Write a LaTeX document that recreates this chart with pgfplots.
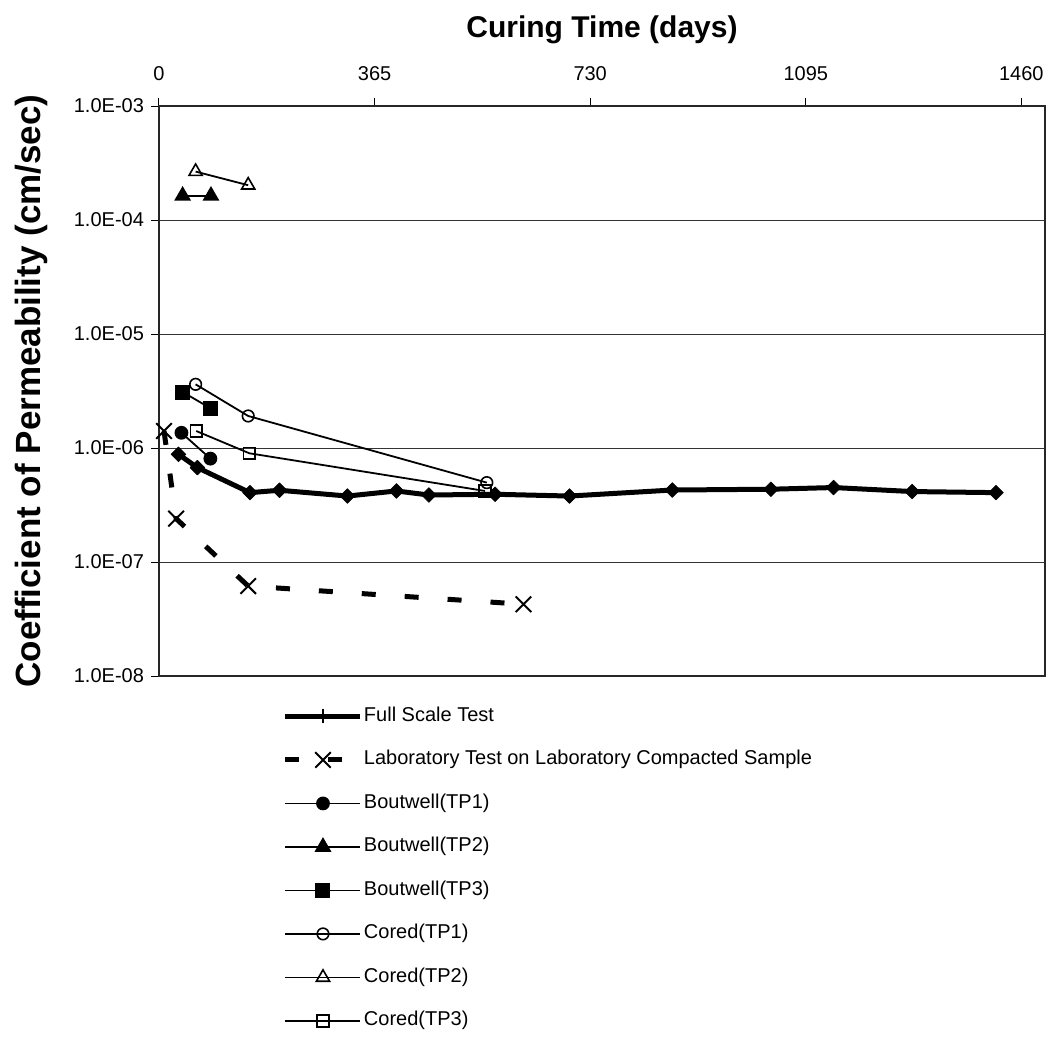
\documentclass[border=0pt]{standalone}
\usepackage{fontspec}
\setmainfont{Liberation Sans}
\usepackage{pgfplots}
\pgfplotsset{compat=1.18}
\begin{document}
\begin{tikzpicture}
\path[use as bounding box] (-79.5pt,-184pt) rectangle (446pt,338pt);
\begin{axis}[
  at={(0,0)}, anchor=south west,
  scale only axis, width=443pt, height=285pt,
  xmin=0, xmax=1500, ymode=log, ymin=1e-8, ymax=1e-3,
  xtick={0,365,730,1095,1460}, xticklabels={0,365,730,1095,1460},
  xtick pos=right, xticklabel pos=right,
  ytick={1e-8,1e-7,1e-6,1e-5,1e-4,1e-3},
  yticklabels={1.0E-08,1.0E-07,1.0E-06,1.0E-05,1.0E-04,1.0E-03},
  ytick pos=left, yminorticks=false,
  tick align=outside, major tick length=4pt,
  ymajorgrids, grid style={black!80, line width=0.5pt},
  axis line style={black!85, line width=0.6pt},
  tick style={black, line width=0.5pt},
  ticklabel style={font=\fontsize{10}{12}\selectfont},
  xticklabel style={yshift=5pt},
  title={Curing Time (days)},
  title style={at={(axis description cs:0.5,1)}, anchor=center, yshift=32pt, font=\bfseries\fontsize{15}{18}\selectfont},
  ylabel={Coefficient of Permeability (cm/sec)},
  ylabel style={at={(axis description cs:-0.1445,0.5)}, anchor=center, font=\bfseries\fontsize{17.5}{20}\selectfont},
  legend style={at={(0.1395,-0.0509)}, anchor=north west, draw=none, fill=none, inner sep=0pt,
    font=\fontsize{10}{12}\selectfont, row sep=10.75pt,
    nodes={inner sep=0.5pt, text height=7.5pt, text depth=2.5pt}},
  legend cell align=left,
  legend image code/.code={\draw[mark repeat=2,mark phase=2,#1] plot coordinates {(0pt,0pt) (18.75pt,0pt) (37.5pt,0pt)};},
]
% Full scale test
\addplot[forget plot, black, line width=2.5pt, line join=round, mark=square*, mark size=2.6pt,
  mark options={rotate=45, solid, line width=0.3pt, fill=black}] coordinates {
 (33,8.81e-7) (65,6.73e-7) (154,4.06e-7) (204,4.26e-7) (319,3.79e-7) (402,4.20e-7)
 (457,3.87e-7) (569,3.93e-7) (695,3.79e-7) (869,4.28e-7) (1036,4.35e-7) (1142,4.50e-7)
 (1275,4.15e-7) (1417,4.06e-7)};
\addlegendimage{black, line width=2.5pt, mark=|, mark size=3.5pt, mark options={line width=1pt}}
\addlegendentry{Full Scale Test}
% Laboratory
\addplot[black, line width=2.5pt, dash pattern=on 7pt off 14.5pt, mark=x, mark size=5.5pt,
  mark options={solid, line width=1pt}] coordinates {
 (8.5,1.41e-6) (29,2.40e-7) (151,6.15e-8) (617,4.26e-8)};
\addlegendentry{Laboratory Test on Laboratory Compacted Sample}
% Boutwell TP1
\addplot[black, line width=0.9pt, mark=*, mark size=3pt, mark options={solid}] coordinates {
 (38,1.36e-6) (87,8.07e-7)};
\addlegendentry{Boutwell(TP1)}
% Boutwell TP2
\addplot[black, line width=0.9pt, mark=triangle*, mark size=4pt, mark options={solid}] coordinates {
 (40,1.63e-4) (88,1.63e-4)};
\addlegendentry{Boutwell(TP2)}
% Boutwell TP3
\addplot[black, line width=0.9pt, mark=square*, mark size=3.3pt, mark options={solid}] coordinates {
 (40,3.10e-6) (88,2.22e-6)};
\addlegendentry{Boutwell(TP3)}
% Cored TP1
\addplot[black, line width=0.9pt, mark=o, mark size=2.9pt, mark options={solid, fill=white, line width=0.8pt}] coordinates {
 (62,3.62e-6) (151,1.91e-6) (555,4.97e-7)};
\addlegendentry{Cored(TP1)}
% Cored TP2
\addplot[black, line width=0.9pt, mark=triangle, mark size=3.8pt, mark options={solid, fill=white, line width=0.8pt}] coordinates {
 (62,2.66e-4) (151,2.02e-4)};
\addlegendentry{Cored(TP2)}
% Cored TP3
\addplot[black, line width=0.9pt, mark=square, mark size=2.9pt, mark options={solid, fill=white, line width=0.8pt}] coordinates {
 (63,1.41e-6) (153,8.99e-7) (552,4.20e-7)};
\addlegendentry{Cored(TP3)}
\end{axis}
\end{tikzpicture}
\end{document}
